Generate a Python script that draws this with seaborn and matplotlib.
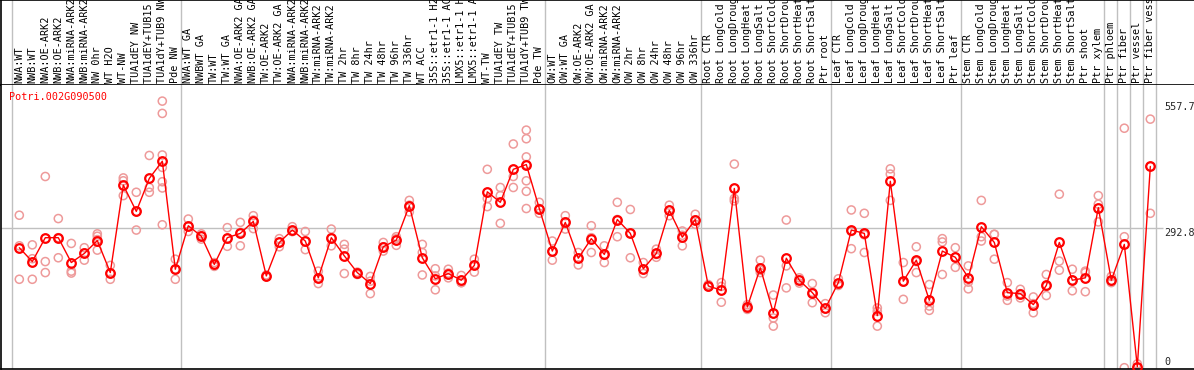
import matplotlib
matplotlib.use("Agg")
import matplotlib.pyplot as plt
import matplotlib.transforms as mtransforms
import pandas as pd
import seaborn as sns

sns.set_style("white")
plt.rcParams["font.family"] = ["DejaVu Sans Mono"]

gene = "Potri.002G090500"

labels = [
    "NWA:WT", "NWB:WT", "NWA:OE-ARK2", "NWB:OE-ARK2", "NWA:miRNA-ARK2", "NWB:miRNA-ARK2",
    "NW 0hr", "WT H2O", "WT-NW", "TUA1dEY NW", "TUA1dEY+TUB15 NW", "TUA1dY+TUB9 NW", "Pde NW",
    "NWA:WT GA", "NWBWT GA", "TW:WT", "TW:WT GA", "NWA:OE-ARK2 GA", "NWB:OE-ARK2 GA",
    "TW:OE-ARK2", "TW:OE-ARK2 GA", "NWA:miRNA-ARK2", "NWB:miRNA-ARK2", "TW:miRNA-ARK2",
    "TW:miRNA-ARK2", "TW 2hr", "TW 8hr", "TW 24hr", "TW 48hr", "TW 96hr", "TW 336hr", "WT ACC",
    "35S::etr1-1 H2O", "35S::etr1-1 ACC", "LMX5::etr1-1 H2O", "LMX5::etr1-1 ACC", "WT-TW",
    "TUA1dEY TW", "TUA1dEY+TUB15 TW", "TUA1dY+TUB9 TW", "Pde TW",
    "OW:WT", "OW:WT GA", "OW:OE-ARK2", "OW:OE-ARK2 GA", "OW:miRNA-ARK2", "OW:miRNA-ARK2",
    "OW 2hr", "OW 8hr", "OW 24hr", "OW 48hr", "OW 96hr", "OW 336hr",
    "Root CTR", "Root LongCold", "Root LongDrought", "Root LongHeat", "Root LongSalt",
    "Root ShortCold", "Root ShortDrought", "Root ShortHeat", "Root ShortSalt", "Ptr root",
    "Leaf CTR", "Leaf LongCold", "Leaf LongDrought", "Leaf LongHeat", "Leaf LongSalt",
    "Leaf ShortCold", "Leaf ShortDrought", "Leaf ShortHeat", "Leaf ShortSalt", "Ptr leaf",
    "Stem CTR", "Stem LongCold", "Stem LongDrought", "Stem LongHeat", "Stem LongSalt",
    "Stem ShortCold", "Stem ShortDrought", "Stem ShortHeat", "Stem ShortSalt", "Ptr shoot",
    "Ptr xylem", "Ptr phloem", "Ptr fiber", "Ptr vessel", "Ptr fiber vessel",
]

means = [
    251, 222, 272, 272, 220, 239, 266, 199, 382, 327, 396, 432, 206,
    297, 275, 216, 272, 281, 306, 192, 262, 288, 265, 188, 272, 234, 199, 176, 253, 267,
    339, 230, 186, 197, 183, 214, 368, 346, 415, 425, 333,
    244, 304, 229, 270, 237, 310, 281, 207, 239, 329, 273, 310,
    171, 162, 375, 127, 209, 115, 229, 183, 157, 124,
    178, 288, 281, 109, 390, 181, 225, 141, 244, 231,
    188, 295, 262, 157, 155, 132, 172, 262, 183, 188, 335,
    183, 258, 2, 421,
]

replicates = [
    [319, 255, 185], [257, 228, 185], [400, 222, 199], [312, 272, 230], [260, 202, 198],
    [251, 240, 225], [280, 275, 268, 246], [214, 198, 185], [397, 391, 360], [367, 326, 288],
    [444, 377, 367], [557.7, 532, 445, 419, 389, 376, 299], [227, 206, 185],
    [311, 296, 285], [280, 276, 269], [220, 214, 212], [293, 270, 254], [304, 283, 255],
    [318, 309, 291], [194, 192, 190], [270, 262, 253], [295, 285, 285], [285, 264, 247],
    [202, 187, 176], [290, 272, 255], [258, 248, 197], [200, 197, 195], [191, 181, 155],
    [262, 253, 244], [274, 270, 256], [350, 340, 326], [258, 241, 194], [207, 192, 163],
    [206, 198, 188], [193, 178, 178], [227, 215, 200], [415, 354, 337], [377, 360, 302],
    [468, 400, 377], [497, 479, 441, 425, 391, 369, 333], [346, 333, 323],
    [265, 243, 225], [318, 305, 290], [241, 229, 215], [297, 272, 241], [255, 235, 220],
    [346, 310, 274], [331, 281, 230], [220, 205, 197], [248, 237, 231], [340, 329, 318],
    [286, 277, 255], [321, 309, 300],
    [174, 171, 169], [178, 170, 137], [426, 354, 349], [132, 128, 122], [225, 204, 199],
    [152, 104, 87], [309, 213, 167], [188, 183, 177], [176, 158, 136], [134, 123, 115],
    [186, 176, 172], [330, 285, 249], [323, 278, 241], [125, 118, 87], [416, 405, 350],
    [220, 179, 143], [253, 222, 199], [174, 129, 120], [270, 263, 195], [251, 231, 210],
    [213, 179, 165], [350, 274, 265], [279, 279, 227], [178, 150, 141], [164, 155, 146],
    [148, 134, 115], [195, 170, 151], [363, 223, 204], [206, 183, 161], [202, 199, 159],
    [360, 342, 305],
    [191, 181, 178], [501, 274, 0], [0, 0, 8], [520, 421, 323],
]

# last sample index of each group, the separators go right after these
group_ends = [12, 40, 52, 62, 72, 83, 84, 85, 86, 87]
ref_value = 292.8
max_value = 557.7

mean_df = pd.DataFrame({"pos": range(len(labels)), "mean": means})
rep_df = pd.DataFrame(
    [(i, v) for i, vals in enumerate(replicates) for v in vals], columns=["pos", "value"]
)

W, H = 1194, 370
fig = plt.figure(figsize=(W / 100, H / 100), dpi=100)
fig.patch.set_facecolor("white")

x0, x1 = -1.408, 90.36
head = fig.add_axes([1 / W, (H - 85) / H, (W - 1) / W, 85 / H])
ax = fig.add_axes([1 / W, 1 / H, (W - 1) / W, 284 / H])

grid_c = "#c0c0c0"
for a in (head, ax):
    a.set_xlim(x0, x1)
    a.set_xticks([])
    a.set_yticks([])
    a.axvline(-0.6, color=grid_c, lw=1, zorder=0)
    for g in group_ends:
        a.axvline(g + 0.4, color=grid_c, lw=1, zorder=0)
    for s in a.spines.values():
        s.set_color("black")
        s.set_linewidth(1.2)
    a.spines["right"].set_visible(False)

head.set_ylim(0, 1)
ax.spines["top"].set_visible(False)
ax.set_ylim(-2.7, 591.4)

# sample names, rotated, sitting on the header line
tr = mtransforms.blended_transform_factory(head.transData, head.transAxes)
for i, lab in enumerate(labels):
    head.text(i, 0.02, lab, rotation=90, ha="center", va="bottom",
              fontsize=7.3, color="black", transform=tr)

ax.hlines(ref_value, x0, 88.0, color=grid_c, lw=1, zorder=0)

sns.scatterplot(data=rep_df, x="pos", y="value", ax=ax, marker="o", s=34,
                facecolor="none", edgecolor="#ee9a9a", linewidth=1.1, zorder=2, legend=False)
sns.lineplot(data=mean_df, x="pos", y="mean", ax=ax, color="#ff0000", lw=1,
             marker="o", markersize=6.2, markerfacecolor="none",
             markeredgecolor="#ff0000", markeredgewidth=1.6, zorder=3)
ax.set_xlabel("")
ax.set_ylabel("")
ax.set_xlim(x0, x1)
ax.set_ylim(-2.7, 591.4)

ax.text(-0.79, 567, gene, color="#ff0000", fontsize=7.3, ha="left", va="center")
ax.text(88.05, 546, f"{max_value}", fontsize=7.3, ha="left", va="center")
ax.text(88.05, 281, f"{ref_value}", fontsize=7.3, ha="left", va="center")
ax.text(88.05, 12, "0", fontsize=7.3, ha="left", va="center")

fig.savefig("out.png", dpi=100)
